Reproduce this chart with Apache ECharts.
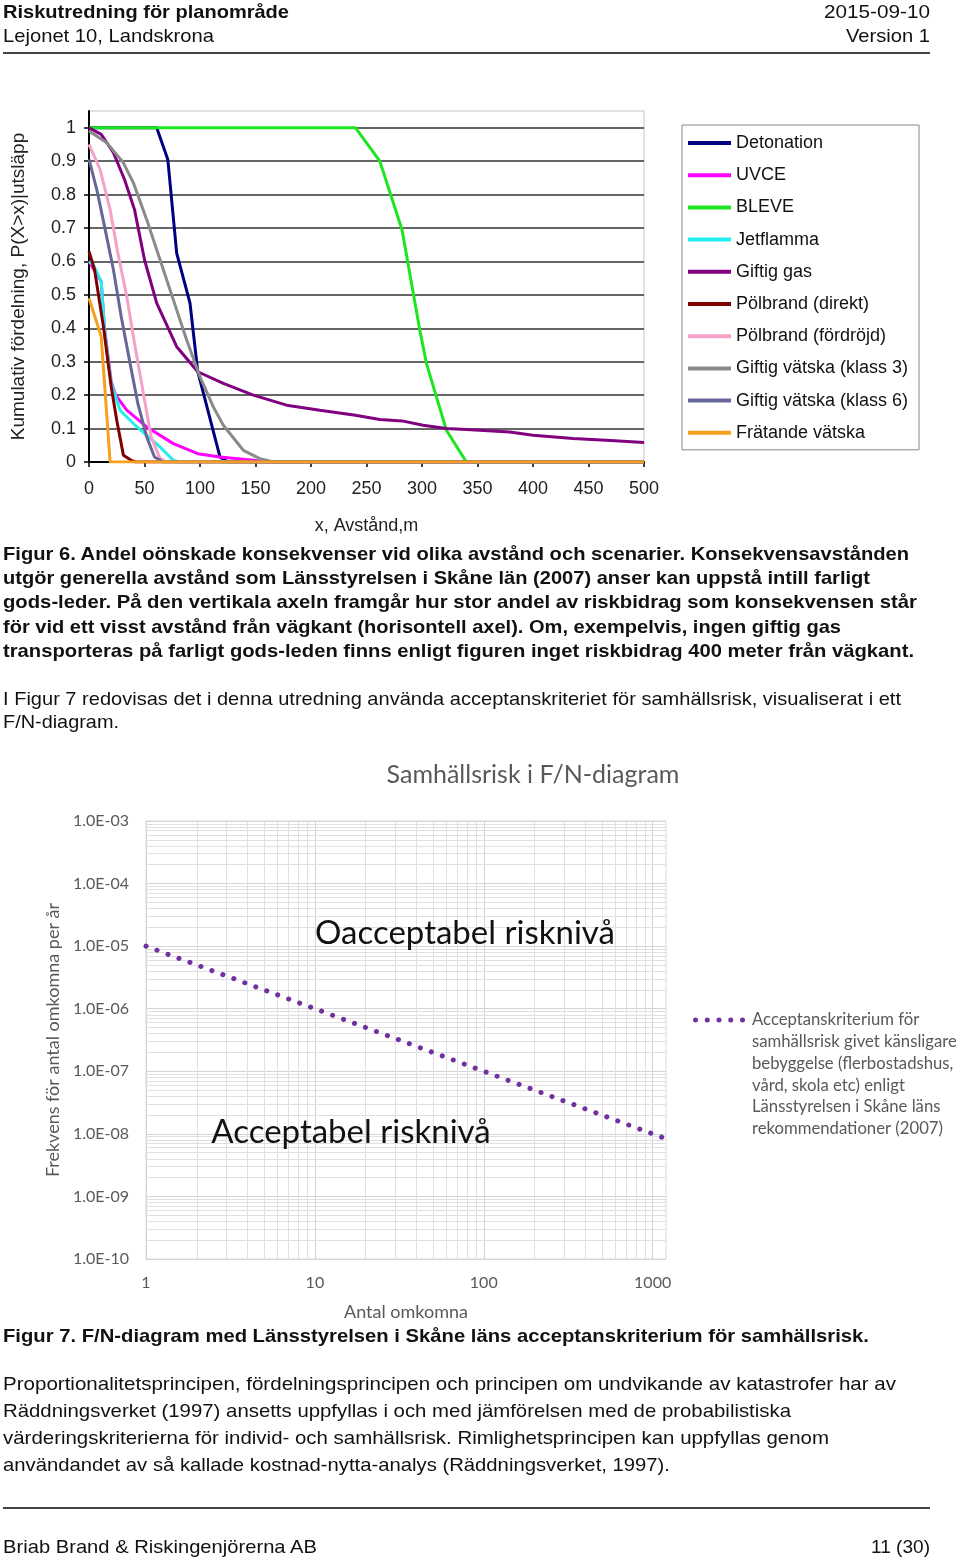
<!DOCTYPE html>
<html><head><meta charset="utf-8">
<script src="https://cdn.jsdelivr.net/npm/echarts@6/dist/echarts.min.js"></script>
<style>
html,body{margin:0;padding:0;background:#fff;}
body{width:960px;height:1559px;position:relative;overflow:hidden;}
#chart{position:absolute;left:0;top:0;width:960px;height:1559px;}
.tx{position:absolute;left:0;top:0;white-space:pre;font-family:"Liberation Sans",Arial,sans-serif;font-size:19px;line-height:20px;color:#111;transform-origin:0 0;z-index:5;}
.rule{position:absolute;left:3px;width:927px;height:2px;background:#444;z-index:5;}
</style></head>
<body>
<div id="chart"></div>
<div class="rule" style="top:52px"></div>
<div class="rule" style="top:1507px"></div>
<script>
// ---------- Figure 6 data: [distance m, P(X>x)] ----------
const seriesNames = ['Detonation','UVCE','BLEVE','Jetflamma','Giftig gas','Pölbrand (direkt)','Pölbrand (fördröjd)','Giftig vätska (klass 3)','Giftig vätska (klass 6)','Frätande vätska'];
const seriesColors = ['#000080','#ff00ff','#1ee61e','#22eeee','#800080','#800000','#f7a0c8','#8a8a8a','#666699','#f7a020'];
const detonation = [[0,1],[61,1],[71,0.905],[79,0.625],[91,0.475],[98,0.27],[118,0.015],[125,0],[500,0]];
const uvce = [[0,0.6],[11,0.54],[14,0.4],[20,0.24],[24,0.2],[34,0.155],[52,0.105],[76,0.055],[98,0.025],[118,0.015],[148,0.005],[160,0],[500,0]];
const bleve = [[0,1],[240,1],[262,0.9],[282,0.695],[298,0.395],[304,0.295],[313,0.195],[322,0.095],[340,0],[500,0]];
const jetflamma = [[0,0.6],[4,0.59],[11,0.54],[14,0.395],[20,0.235],[28,0.155],[40,0.115],[52,0.08],[64,0.045],[76,0.005],[82,0],[500,0]];
const giftigGas = [[0,1],[11,0.98],[22,0.925],[32,0.845],[41,0.755],[50,0.605],[61,0.475],[79,0.345],[98,0.27],[121,0.235],[148,0.2],[178,0.17],[208,0.155],[240,0.14],[262,0.127],[282,0.123],[301,0.11],[322,0.1],[340,0.097],[379,0.09],[400,0.08],[436,0.07],[470,0.064],[500,0.058]];
const polbrandDirekt = [[0,0.63],[5,0.575],[13,0.405],[20,0.225],[25,0.125],[31,0.02],[38,0.005],[42,0],[500,0]];
const polbrandFordrojd = [[0,0.95],[10,0.875],[19,0.755],[26,0.625],[34,0.495],[41,0.355],[49,0.205],[56,0.075],[64,0.01],[70,0],[500,0]];
const giftigVatska3 = [[0,0.99],[16,0.955],[31,0.895],[40,0.835],[52,0.725],[64,0.605],[76,0.485],[88,0.365],[100,0.255],[112,0.165],[121,0.11],[139,0.035],[154,0.01],[166,0],[500,0]];
const giftigVatska6 = [[0,0.905],[7,0.815],[14,0.705],[22,0.575],[29,0.435],[37,0.295],[44,0.175],[52,0.075],[59,0.015],[67,0],[500,0]];
const fratandeVatska = [[0,0.49],[11,0.375],[19,0],[500,0]];
const fig6Data = [detonation,uvce,bleve,jetflamma,giftigGas,polbrandDirekt,polbrandFordrojd,giftigVatska3,giftigVatska6,fratandeVatska];

// ---------- Figure 7 data: [N omkomna, F per år] ----------
const criterionName = 'Acceptanskriterium för';
const criterionRest = ['samhällsrisk givet känsligare','bebyggelse (flerbostadshus,','vård, skola etc) enligt','Länsstyrelsen i Skåne läns','rekommendationer (2007)'];
const criterion = [[1,1e-5],[10,1e-6],[100,1e-7],[1000,1e-8],[1150,8.7e-9]];
const fnXMin = 1, fnXMax = 1200, fnYMin = 1e-10, fnYMax = 1e-3;

// minor log grid positions
const fnMinorX = []; [1,10,100].forEach(d=>{for(let k=2;k<=9;k++) fnMinorX.push(k*d);});
const fnMinorY = []; for(let e=-10;e<=-4;e++){for(let k=2;k<=9;k++) fnMinorY.push(k*Math.pow(10,e));}

const chart = echarts.init(document.getElementById('chart'), null, {renderer:'canvas'});
const series = fig6Data.map((d,i)=>({
  name: seriesNames[i], type:'line', xAxisIndex:0, yAxisIndex:0, data:d,
  symbol:'none', lineStyle:{color:seriesColors[i], width:3}, itemStyle:{color:seriesColors[i]},
  animation:false, z:2+i
}));
series.push({
  name:'grid-minor', type:'line', xAxisIndex:1, yAxisIndex:1, data:[[1,1e-10]], symbol:'none',
  lineStyle:{opacity:0}, silent:true, animation:false,
  markLine:{silent:true, z:1, symbol:['none','none'], label:{show:false}, animation:false,
    lineStyle:{color:'#e0e0e0', width:1, type:'solid'},
    emphasis:{disabled:true},
    data: fnMinorX.map(v=>[{coord:[v,fnYMin]},{coord:[v,fnYMax]}])
      .concat(fnMinorY.map(v=>[{coord:[fnXMin,v]},{coord:[fnXMax,v]}]))}
});
series.push({
  name: criterionName, type:'line', xAxisIndex:1, yAxisIndex:1, data:criterion, symbol:'none', z:10,
  lineStyle:{color:'#7030a0', width:5, type:[0.1,11.6], cap:'round'}, itemStyle:{color:'#7030a0'}, animation:false
});

// five-dot legend icon
const dotIcon = 'path://' + [2.5,14.25,26,37.75,49.5].map(c=>'M'+(c-2.5)+',2.5a2.5,2.5 0 1,0 5,0a2.5,2.5 0 1,0 -5,0Z').join(' ');

const option = {
  animation:false,
  grid:[
    {left:89, top:111, width:555, height:351, show:true, borderColor:'#c4c4c4', borderWidth:1, backgroundColor:'rgba(0,0,0,0)'},
    {left:146, top:821, width:520, height:438, show:true, borderColor:'#d9d9d9', borderWidth:1, backgroundColor:'rgba(0,0,0,0)'}
  ],
  xAxis:[
    {type:'value', gridIndex:0, min:0, max:500, interval:50,
     axisLine:{show:true, onZero:false, lineStyle:{color:'#000', width:2}},
     axisTick:{show:true, length:5, lineStyle:{color:'#000', width:1.5}},
     axisLabel:{fontSize:18, color:'#222', margin:18, fontFamily:'Liberation Sans'},
     splitLine:{show:false},
     name:'x, Avstånd,m', nameLocation:'middle', nameGap:55,
     nameTextStyle:{fontSize:18, color:'#222', fontFamily:'Liberation Sans'}},
    {type:'log', gridIndex:1, logBase:10, min:fnXMin, max:fnXMax,
     axisLine:{show:false}, axisTick:{show:false},
     axisLabel:{fontSize:16, color:'#595959', margin:16, fontFamily:'Lato', showMaxLabel:false,
       formatter:v=> v>1001 ? '' : String(Math.round(v))},
     splitLine:{show:true, showMaxLine:false, lineStyle:{color:'#d4d4d4', width:1}},
     name:'Antal omkomna', nameLocation:'middle', nameGap:44,
     nameTextStyle:{fontSize:18, color:'#595959', fontFamily:'Lato'}},
  ],
  yAxis:[
    {type:'value', gridIndex:0, min:0, max:1.05, interval:0.1,
     axisLine:{show:true, lineStyle:{color:'#000', width:2}},
     axisTick:{show:true, length:5, lineStyle:{color:'#000', width:1.5}},
     axisLabel:{fontSize:18, color:'#222', margin:13, fontFamily:'Liberation Sans', showMaxLabel:false,
       formatter:v=> v>1.001 ? '' : String(Math.round(v*10)/10)},
     splitLine:{show:true, showMaxLine:false, lineStyle:{color:'#666', width:2}},
     name:'Kumulativ fördelning, P(X>x)|utsläpp', nameLocation:'middle', nameGap:61,
     nameTextStyle:{fontSize:19, color:'#222', fontFamily:'Liberation Sans'}},
    {type:'log', gridIndex:1, logBase:10, min:fnYMin, max:fnYMax,
     axisLine:{show:false}, axisTick:{show:false},
     axisLabel:{fontSize:16, color:'#595959', margin:17, fontFamily:'Lato',
       formatter:v=>{const e=Math.round(Math.log10(v)); return '1.0E-'+String(-e).padStart(2,'0');}},
     splitLine:{show:true, lineStyle:{color:'#d4d4d4', width:1}},
     name:'Frekvens för antal omkomna per år', nameLocation:'middle', nameGap:84,
     nameTextStyle:{fontSize:18, color:'#595959', fontFamily:'Lato'}}
  ],
  legend:[
    {data:seriesNames, orient:'vertical', left:682, top:125, padding:[8,11,7,6],
     backgroundColor:'#fff', borderColor:'#888', borderWidth:1, borderRadius:0,
     itemGap:12.2, itemWidth:43, itemHeight:4, icon:'rect', selectedMode:false,
     textStyle:{fontSize:18, color:'#111', fontFamily:'Liberation Sans', lineHeight:20}},
    {data:[{name:criterionName, icon:dotIcon}], orient:'vertical', left:693, top:1010, padding:0,
     itemWidth:52, itemHeight:5, selectedMode:false,
     itemStyle:{color:'#7030a0', borderWidth:0},
     textStyle:{fontSize:16.7, color:'#595959', fontFamily:'Lato', lineHeight:20, padding:[0,0,0,2]}}
  ],
  graphic:[
    {type:'text', z:100, x:533, y:775, style:{text:'Samhällsrisk i F/N-diagram', font:'25px Lato', fill:'#595959', textAlign:'center', textVerticalAlign:'middle'}},
    {type:'text', z:100, x:465, y:933, style:{text:'Oacceptabel risknivå', font:'33px Lato', fill:'#111', textAlign:'center', textVerticalAlign:'middle'}},
    {type:'text', z:100, x:351, y:1132, style:{text:'Acceptabel risknivå', font:'33px Lato', fill:'#111', textAlign:'center', textVerticalAlign:'middle'}}
  ].concat(criterionRest.map((t,i)=>({type:'text', z:100, x:752, y:1042+i*21.6,
     style:{text:t, font:'16.7px Lato', fill:'#595959', textAlign:'left', textVerticalAlign:'middle'}}))),
  series: series
};
chart.setOption(option);

// ---------- page text ----------
const pageLines = [
  ['Riskutredning för planområde',3,289,12,true],
  ['Lejonet 10, Landskrona',3,214,36,false],
  ['2015-09-10',824,930,12,false],
  ['Version 1',846,930,36,false],
  ['Figur 6. Andel oönskade konsekvenser vid olika avstånd och scenarier. Konsekvensavstånden',3,909,554,true],
  ['utgör generella avstånd som Länsstyrelsen i Skåne län (2007) anser kan uppstå intill farligt',3,870,578,true],
  ['gods-leder. På den vertikala axeln framgår hur stor andel av riskbidrag som konsekvensen står',3,917,602,true],
  ['för vid ett visst avstånd från vägkant (horisontell axel). Om, exempelvis, ingen giftig gas',3,841,627,true],
  ['transporteras på farligt gods-leden finns enligt figuren inget riskbidrag 400 meter från vägkant.',3,914,651,true],
  ['I Figur 7 redovisas det i denna utredning använda acceptanskriteriet för samhällsrisk, visualiserat i ett',3,901,699,false],
  ['F/N-diagram.',3,119,722,false],
  ['Figur 7. F/N-diagram med Länsstyrelsen i Skåne läns acceptanskriterium för samhällsrisk.',3,869,1336,true],
  ['Proportionalitetsprincipen, fördelningsprincipen och principen om undvikande av katastrofer har av',3,896,1384,false],
  ['Räddningsverket (1997) ansetts uppfyllas i och med jämförelsen med de probabilistiska',3,791,1411,false],
  ['värderingskriterierna för individ- och samhällsrisk. Rimlighetsprincipen kan uppfyllas genom',3,829,1438,false],
  ['användandet av så kallade kostnad-nytta-analys (Räddningsverket, 1997).',3,670,1465,false],
  ['Briab Brand & Riskingenjörerna AB',3,317,1547,false],
  ['11 (30)',871,930,1547,false]
];
pageLines.forEach(([t,x1,x2,cy,bold])=>{
  const d=document.createElement('div');
  d.className='tx'; d.textContent=t;
  if(bold) d.style.fontWeight='bold';
  document.body.appendChild(d);
  const w=d.getBoundingClientRect().width;
  const s=(x2-x1)/w;
  d.style.transform='translate('+x1+'px,'+(cy-10)+'px) scaleX('+s+')';
});
</script>
</body></html>
